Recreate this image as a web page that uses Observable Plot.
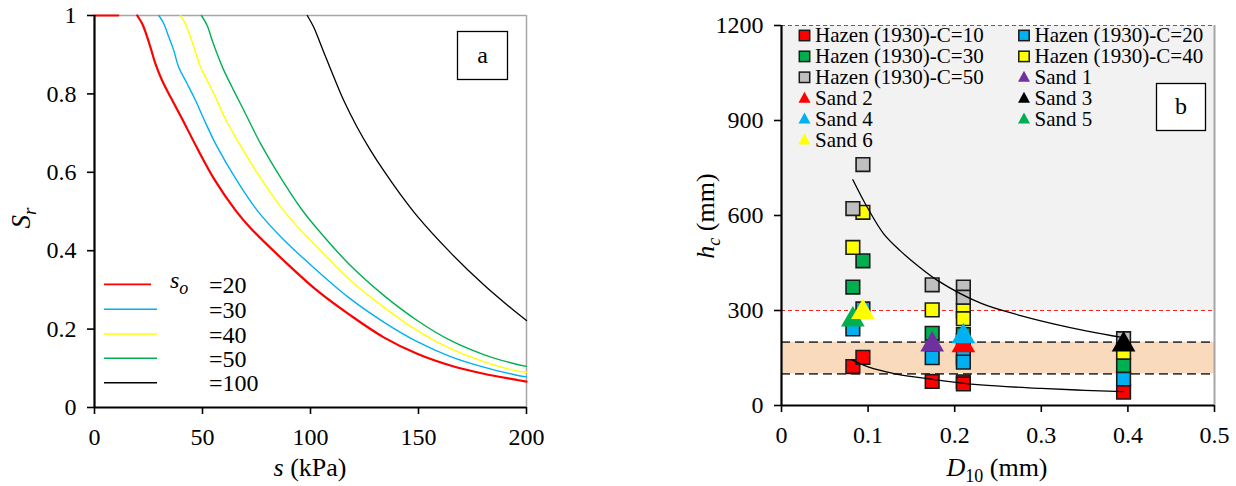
<!DOCTYPE html>
<html><head><meta charset="utf-8">
<script src="https://cdn.jsdelivr.net/npm/d3@7"></script>
<script src="https://cdn.jsdelivr.net/npm/@observablehq/plot@0.6"></script>
<style>
html,body{margin:0;padding:0;background:#fff;}
#wrap{position:relative;width:1236px;height:486px;overflow:hidden;font-family:"Liberation Serif","Times New Roman",serif;}
#wrap > svg{position:absolute;top:0;}
</style></head><body><div id="wrap"></div>
<script>
// ---------- Panel a data ----------
const soLabels = ["=20", "=30", "=40", "=50", "=100"];
const s20  = [19.75, 22.1, 23.9, 25.9, 28.2, 31.3, 35.2, 40.6, 47.2, 55.7, 65.3, 72.2, 87.6, 103.1, 118.5, 133.9, 149.4, 164.8, 180.2, 194.9, 200];
const sr20 = [1, 0.979, 0.953, 0.919, 0.877, 0.834, 0.792, 0.736, 0.665, 0.580, 0.503, 0.458, 0.375, 0.298, 0.235, 0.179, 0.137, 0.107, 0.086, 0.071, 0.066];
const s20flat  = [0, 11];
const sr20flat = [1, 1];
const s30  = [29.8, 32.1, 34.4, 36.7, 39.0, 42.9, 46.8, 50.6, 56.5, 66.0, 75.3, 87.6, 103.1, 118.5, 133.9, 149.4, 164.8, 180.2, 194.9, 200];
const sr30 = [1, 0.979, 0.945, 0.911, 0.868, 0.826, 0.783, 0.736, 0.668, 0.578, 0.503, 0.428, 0.349, 0.277, 0.218, 0.168, 0.130, 0.103, 0.083, 0.078];
const s40  = [39.8, 42.1, 44.4, 46.8, 49.1, 52.2, 56.0, 60.6, 67.6, 76.9, 86.5, 95.0, 103.1, 118.5, 133.9, 149.4, 164.8, 180.2, 194.9, 200];
const sr40 = [1, 0.979, 0.945, 0.906, 0.868, 0.834, 0.792, 0.736, 0.668, 0.585, 0.510, 0.455, 0.409, 0.324, 0.256, 0.196, 0.150, 0.117, 0.094, 0.090];
const s50  = [49.5, 52.2, 54.5, 56.8, 59.9, 63.7, 68.4, 76.9, 86.1, 95.7, 103.1, 118.5, 133.9, 149.4, 164.8, 180.2, 194.9, 200];
const sr50 = [1, 0.974, 0.936, 0.902, 0.860, 0.817, 0.766, 0.673, 0.587, 0.507, 0.456, 0.362, 0.286, 0.222, 0.171, 0.135, 0.111, 0.105];
const s100  = [98.5, 101.5, 104.6, 107.7, 110.8, 115.4, 121.6, 127.8, 133.9, 141.7, 149.4, 164.8, 180.2, 194.9, 200];
const sr100 = [1, 0.970, 0.928, 0.885, 0.843, 0.783, 0.715, 0.656, 0.604, 0.543, 0.488, 0.395, 0.313, 0.244, 0.222];
const xTicksA = [0, 50, 100, 150, 200];
const yTicksA = [0, 0.2, 0.4, 0.6, 0.8, 1];
const yLabelsA = ["0", "0.2", "0.4", "0.6", "0.8", "1"];

// ---------- Panel b data ----------
const hazenLabels = ["Hazen (1930)-C=10", "Hazen (1930)-C=20", "Hazen (1930)-C=30", "Hazen (1930)-C=40", "Hazen (1930)-C=50"];
const hazenD10 = [0.0824, 0.094, 0.174, 0.21, 0.21, 0.395];
const hazenC10 = [123, 152, 76, 75, 68, 42];
const hazenC20 = [242, 305, 151, 150, 137, 84];
const hazenC30 = [374, 457, 228, 224, 205, 126];
const hazenC40 = [499, 610, 302, 299, 274, 168];
const hazenC50 = [622, 761, 381, 374, 342, 211];
const sandLabels = ["Sand 1", "Sand 2", "Sand 3", "Sand 4", "Sand 5", "Sand 6"];
const sandD10 = [0.174, 0.21, 0.395, 0.21, 0.0824, 0.094];
const sandHc  = [192, 190, 192, 218, 271, 295];
const upperD10 = [0.0824, 0.099, 0.118, 0.137, 0.157, 0.18, 0.23, 0.276, 0.314, 0.353, 0.395];
const upperHc  = [713, 626, 542, 489, 442, 395, 323, 284, 258, 235, 214];
const lowerD10 = [0.0816, 0.1, 0.13, 0.176, 0.23, 0.3, 0.35, 0.395];
const lowerHc  = [144, 122, 101, 82, 65, 54, 48, 44];
const shadeLow  = [300, 100];
const shadeHigh = [1200, 200];
const redDashLevels = [300, 1200];
const blackDashLevels = [100, 200];
const xTicksB = [0, 0.1, 0.2, 0.3, 0.4, 0.5];
const xLabelsB = ["0", "0.1", "0.2", "0.3", "0.4", "0.5"];
const yTicksB = [0, 300, 600, 900, 1200];

// ---------- styles ----------
const lineColorsA = ["#ff0000", "#00b0f0", "#ffff00", "#00b050", "#000000"];
const lineWidthsA = [2.2, 1.4, 1.4, 1.4, 1.3];
const hazenColors = ["#ff0000", "#00b0f0", "#00b050", "#ffff00", "#bfbfbf"];
const sandColors = ["#7030a0", "#ff0000", "#000000", "#00b0f0", "#00b050", "#ffff00"];
const shadeColors = ["#f2f2f2", "#f9dabd"];
const FONT = "Liberation Serif, Times New Roman, serif";
const wrap = document.getElementById("wrap");

// ================= Panel a =================
const sSeries = [s20, s30, s40, s50, s100];
const srSeries = [sr20, sr30, sr40, sr50, sr100];
const marksA = [];
marksA.push(Plot.ruleY([1], {stroke: "#a6a6a6", strokeWidth: 1.5}));
marksA.push(Plot.ruleX([200], {stroke: "#a6a6a6", strokeWidth: 1.5}));
marksA.push(Plot.line(s20flat.map((s, j) => ({s, sr: sr20flat[j]})), {x: "s", y: "sr", stroke: lineColorsA[0], strokeWidth: lineWidthsA[0]}));
soLabels.forEach((lab, i) => {
  const rows = sSeries[i].map((s, j) => ({s, sr: srSeries[i][j]}));
  marksA.push(Plot.line(rows, {x: "s", y: "sr", stroke: lineColorsA[i], strokeWidth: lineWidthsA[i], curve: "catmull-rom"}));
});
marksA.push(Plot.ruleX([0], {stroke: "#000", strokeWidth: 2.2}));
marksA.push(Plot.ruleY([0], {stroke: "#000", strokeWidth: 2.2}));
marksA.push(Plot.axisX({ticks: xTicksA, tickSize: 7, tickPadding: 13, tickFormat: d => String(d), strokeWidth: 1.6, fontSize: 24, label: null}));
marksA.push(Plot.axisY({ticks: yTicksA, tickSize: 7, tickPadding: 11, tickFormat: d => yLabelsA[yTicksA.indexOf(d)], strokeWidth: 1.6, fontSize: 24, label: null}));

const svgA = Plot.plot({
  width: 560, height: 486,
  marginLeft: 94, marginRight: 34, marginTop: 15, marginBottom: 79,
  x: {domain: [0, 200]}, y: {domain: [0, 1]},
  style: {fontFamily: FONT, fontSize: "24px", color: "#000", background: "transparent", overflow: "visible"},
  marks: marksA
});
svgA.style.left = "0px";
wrap.appendChild(svgA);
{
  const g = d3.select(svgA).append("g").attr("font-family", FONT).attr("fill", "#000").attr("text-anchor", "start");
  // y title S_r
  const t = g.append("text").attr("transform", "translate(30,218) rotate(-90)").attr("text-anchor", "middle").attr("font-size", 27);
  t.append("tspan").attr("font-style", "italic").text("S");
  t.append("tspan").attr("font-style", "italic").attr("font-size", 19).attr("dy", 6).text("r");
  // x title
  const tx = g.append("text").attr("x", 310).attr("y", 476).attr("text-anchor", "middle").attr("font-size", 26);
  tx.append("tspan").attr("font-style", "italic").text("s");
  tx.append("tspan").text(" (kPa)");
  // legend
  const lineY = [284.3, 309.3, 334, 358.3, 382.7];
  const lineX2 = [151, 157, 157, 157, 157];
  soLabels.forEach((lab, i) => {
    g.append("line").attr("x1", 104).attr("x2", lineX2[i]).attr("y1", lineY[i]).attr("y2", lineY[i])
      .attr("stroke", lineColorsA[i]).attr("stroke-width", i === 0 ? 1.8 : 1.5);
    g.append("text").attr("x", 209).attr("y", lineY[i] + 8.5).attr("font-size", 24).text(lab);
  });
  const so = g.append("text").attr("x", 170).attr("y", 288).attr("font-size", 24).attr("font-style", "italic");
  so.append("tspan").text("s");
  so.append("tspan").attr("font-size", 18).attr("dy", 6).text("o");
  // label box a
  g.append("rect").attr("x", 457.5).attr("y", 31.5).attr("width", 50).attr("height", 48).attr("fill", "#fff").attr("stroke", "#000").attr("stroke-width", 1.3);
  g.append("text").attr("x", 482.5).attr("y", 63).attr("text-anchor", "middle").attr("font-size", 24).text("a");
}

// ================= Panel b =================
const marksB = [];
const shadeRows = shadeLow.map((lo, i) => ({lo, hi: shadeHigh[i], c: shadeColors[i]}));
marksB.push(Plot.rect(shadeRows, {x1: () => 0, x2: () => 0.5, y1: "lo", y2: "hi", fill: d => d.c}));
marksB.push(Plot.ruleX([0.5], {stroke: "#a6a6a6", strokeWidth: 2}));
marksB.push(Plot.ruleY(redDashLevels, {stroke: "#ff2020", strokeWidth: 1.1, strokeDasharray: "4,3"}));
marksB.push(Plot.ruleY(blackDashLevels, {stroke: "#404040", strokeWidth: 1.6, strokeDasharray: "9,5"}));
const hazenSeries = [hazenC10, hazenC20, hazenC30, hazenC40, hazenC50];
hazenSeries.forEach((vals, k) => {
  const rows = hazenD10.map((d, j) => ({d, hc: vals[j]}));
  marksB.push(Plot.dot(rows, {x: "d", y: "hc", symbol: "square", r: 7.7, fill: hazenColors[k], stroke: "#1a1a1a", strokeWidth: 1.6}));
});
marksB.push(Plot.line(upperD10.map((d, j) => ({d, hc: upperHc[j]})), {x: "d", y: "hc", stroke: "#000", strokeWidth: 1.3, curve: "catmull-rom"}));
marksB.push(Plot.line(lowerD10.map((d, j) => ({d, hc: lowerHc[j]})), {x: "d", y: "hc", stroke: "#000", strokeWidth: 1.3, curve: "catmull-rom"}));
sandLabels.forEach((lab, i) => {
  marksB.push(Plot.dot([{d: sandD10[i], hc: sandHc[i]}], {x: "d", y: "hc", symbol: "triangle", r: 8.8, fill: sandColors[i], stroke: "none"}));
});
marksB.push(Plot.ruleX([0], {stroke: "#000", strokeWidth: 2.2}));
marksB.push(Plot.ruleY([0], {stroke: "#000", strokeWidth: 2.2}));
marksB.push(Plot.axisX({ticks: xTicksB, tickSize: 7, tickPadding: 13, tickFormat: d => xLabelsB[xTicksB.indexOf(d)], strokeWidth: 1.6, fontSize: 24, label: null}));
marksB.push(Plot.axisY({ticks: yTicksB, tickSize: 7, tickPadding: 11, tickFormat: d => String(d), strokeWidth: 1.6, fontSize: 24, label: null}));

const svgB = Plot.plot({
  width: 596, height: 486,
  marginLeft: 141, marginRight: 22, marginTop: 25, marginBottom: 81,
  x: {domain: [0, 0.5]}, y: {domain: [0, 1200]},
  style: {fontFamily: FONT, fontSize: "24px", color: "#000", background: "transparent", overflow: "visible"},
  marks: marksB
});
svgB.style.left = "640px";
wrap.appendChild(svgB);
{
  const g = d3.select(svgB).append("g").attr("font-family", FONT).attr("fill", "#000").attr("text-anchor", "start");
  const t = g.append("text").attr("transform", "translate(74,216) rotate(-90)").attr("text-anchor", "middle").attr("font-size", 26);
  t.append("tspan").attr("font-style", "italic").text("h");
  t.append("tspan").attr("font-style", "italic").attr("font-size", 18).attr("dy", 6).text("c");
  t.append("tspan").attr("dy", -6).text(" (mm)");
  const tx = g.append("text").attr("x", 357).attr("y", 476).attr("text-anchor", "middle").attr("font-size", 26);
  tx.append("tspan").attr("font-style", "italic").text("D");
  tx.append("tspan").attr("font-size", 18).attr("dy", 6).text("10");
  tx.append("tspan").attr("dy", -6).text(" (mm)");
  // legend
  const entries = hazenLabels.map((l, k) => ({l, sym: "sq", c: hazenColors[k]}))
    .concat(sandLabels.map((l, i) => ({l, sym: "tri", c: sandColors[i]})));
  entries.forEach((e, idx) => {
    const col = idx % 2, row = Math.floor(idx / 2);
    const cx = col === 0 ? 164.5 : 384;
    const cy = 35.5 + row * 20.9;
    if (e.sym === "sq") {
      g.append("rect").attr("x", cx - 5.2).attr("y", cy - 5.2).attr("width", 10.4).attr("height", 10.4)
        .attr("fill", e.c).attr("stroke", "#1a1a1a").attr("stroke-width", 1.5);
    } else {
      g.append("path").attr("d", `M${cx},${cy - 6.5}L${cx + 6},${cy + 4.5}L${cx - 6},${cy + 4.5}Z`).attr("fill", e.c);
    }
    g.append("text").attr("x", cx + 10.5).attr("y", cy + 6.8).attr("font-size", 21).attr("text-anchor", "start").text(e.l);
  });
  g.append("rect").attr("x", 516.5).attr("y", 83.5).attr("width", 49).attr("height", 47).attr("fill", "#fff").attr("stroke", "#000").attr("stroke-width", 1.3);
  g.append("text").attr("x", 541).attr("y", 114).attr("text-anchor", "middle").attr("font-size", 24).text("b");
}
</script>
</body></html>
